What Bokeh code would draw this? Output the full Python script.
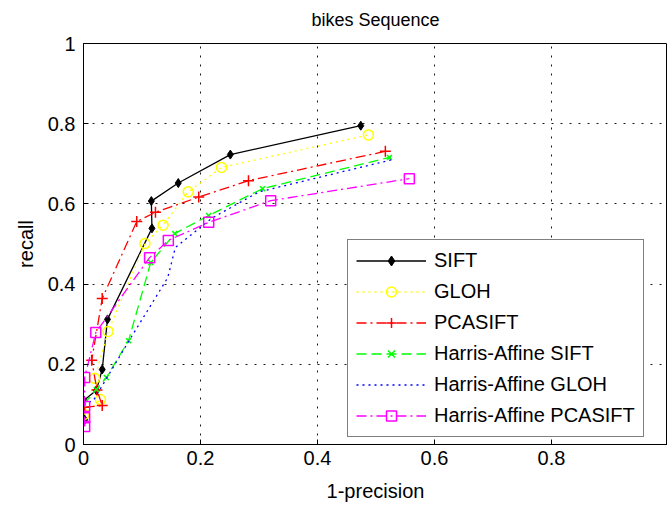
from bokeh.plotting import figure
from bokeh.models import Range1d, Legend, LegendItem, FixedTicker, Title
from bokeh.embed import file_html
from bokeh.resources import INLINE

FONT = "'Liberation Sans'"

sift_x = [0.002, 0.0005, 0.022, 0.032, 0.041, 0.117, 0.116, 0.162, 0.251, 0.474]
sift_y = [0.062, 0.110, 0.135, 0.187, 0.312, 0.539, 0.607, 0.652, 0.723, 0.795]

gloh_x = [0.001, 0.029, 0.019, 0.042, 0.105, 0.136, 0.179, 0.236, 0.487]
gloh_y = [0.075, 0.112, 0.165, 0.282, 0.501, 0.547, 0.630, 0.691, 0.772]

pca_x = [0.002, 0.032, 0.023, 0.014, 0.032, 0.091, 0.123, 0.197, 0.282, 0.516]
pca_y = [0.093, 0.097, 0.136, 0.210, 0.364, 0.556, 0.579, 0.617, 0.658, 0.731]

ha_sift_x = [0.0, 0.022, 0.039, 0.077, 0.115, 0.156, 0.214, 0.306, 0.523]
ha_sift_y = [0.100, 0.137, 0.167, 0.259, 0.454, 0.526, 0.571, 0.638, 0.716]

ha_gloh_x = [0.0, 0.017, 0.075, 0.144, 0.157, 0.220, 0.300, 0.527]
ha_gloh_y = [0.100, 0.110, 0.252, 0.416, 0.491, 0.565, 0.630, 0.710]

ha_pca_x = [0.002, 0.002, 0.002, 0.002, 0.021, 0.113, 0.145, 0.214, 0.320, 0.557]
ha_pca_y = [0.045, 0.067, 0.095, 0.167, 0.279, 0.466, 0.509, 0.554, 0.608, 0.663]

x_ticks = [0, 0.2, 0.4, 0.6, 0.8, 1]
y_ticks = [0, 0.2, 0.4, 0.6, 0.8, 1]

p = figure(width=667, height=507, output_backend="svg", toolbar_location=None,
           x_range=Range1d(0, 0.9983), y_range=Range1d(0, 1),
           min_border_left=83, min_border_right=0, min_border_top=43, min_border_bottom=63,
           title="bikes Sequence")
p.title.align = "center"
p.title.text_font = FONT
p.title.text_font_size = "18px"
p.title.text_font_style = "normal"
p.title.text_color = "black"
# empty spacer title between the frame and the real title
p.add_layout(Title(text=" ", text_font_size="7px", standoff=0), "above")

p.outline_line_color = "black"
p.outline_line_width = 1
p.outline_line_alpha = 1

for ax in (p.xaxis[0], p.yaxis[0]):
    ax.major_tick_in = 5
    ax.major_tick_out = 0
    ax.minor_tick_in = 0
    ax.minor_tick_out = 0
    ax.axis_line_color = "black"
    ax.major_tick_line_color = "black"
    ax.major_label_text_font = FONT
    ax.major_label_text_font_size = "20px"
    ax.major_label_text_color = "black"
    ax.axis_label_text_font = FONT
    ax.axis_label_text_font_size = "20px"
    ax.axis_label_text_font_style = "normal"
    ax.axis_label_text_color = "black"

p.xaxis.ticker = FixedTicker(ticks=x_ticks)
p.yaxis.ticker = FixedTicker(ticks=y_ticks)
p.xaxis.major_label_overrides = {0: "0", 1: "1"}
p.yaxis.major_label_overrides = {0: "0", 1: "1"}
p.xaxis.axis_label = "1-precision"
p.yaxis.axis_label = "recall"
p.xaxis.major_label_standoff = 6
p.yaxis.major_label_standoff = 8
p.xaxis.axis_label_standoff = 12
p.yaxis.axis_label_standoff = 8

p.grid.grid_line_color = "black"
p.grid.grid_line_dash = "2 7"
p.grid.grid_line_width = 1
p.grid.grid_line_alpha = 0.9

items = []

r1 = p.line(sift_x, sift_y, line_color="black", line_width=1.3)
m1 = p.scatter(sift_x, sift_y, marker="diamond", size=9, fill_color="black", line_color="black")
items.append(LegendItem(label="SIFT", renderers=[r1, m1]))

r2 = p.line(gloh_x, gloh_y, line_color="#FFFF00", line_width=1.3, line_dash="2 4")
m2 = p.scatter(gloh_x, gloh_y, marker="circle", size=10, fill_color=None, line_color="#FFFF00", line_width=1.5)
items.append(LegendItem(label="GLOH", renderers=[r2, m2]))

r3 = p.line(pca_x, pca_y, line_color="#FF0000", line_width=1.3, line_dash="10 4 2 4")
m3 = p.scatter(pca_x, pca_y, marker="cross", size=11, line_color="#FF0000", line_width=1.5)
items.append(LegendItem(label="PCASIFT", renderers=[r3, m3]))

r4 = p.line(ha_sift_x, ha_sift_y, line_color="#00FF00", line_width=1.3, line_dash="10 5")
m4 = p.scatter(ha_sift_x, ha_sift_y, marker="x", size=7, line_color="#00FF00", line_width=1.5)
items.append(LegendItem(label="Harris-Affine SIFT", renderers=[r4, m4]))

r5 = p.line(ha_gloh_x, ha_gloh_y, line_color="#0000FF", line_width=1.3, line_dash="2 4")
items.append(LegendItem(label="Harris-Affine GLOH", renderers=[r5]))

r6 = p.line(ha_pca_x, ha_pca_y, line_color="#FF00FF", line_width=1.3, line_dash="10 4 2 4")
m6 = p.scatter(ha_pca_x, ha_pca_y, marker="square", size=10, fill_color=None, line_color="#FF00FF", line_width=1.5)
items.append(LegendItem(label="Harris-Affine PCASIFT", renderers=[r6, m6]))

legend = Legend(items=items, location=(264, 7))
legend.label_text_font = FONT
legend.label_text_font_size = "20px"
legend.label_text_color = "black"
legend.glyph_width = 70
legend.glyph_height = 25
legend.label_height = 25
legend.spacing = 6
legend.padding = 8
legend.margin = 0
legend.label_standoff = 8
legend.border_line_color = "black"
legend.border_line_width = 1
legend.background_fill_color = "white"
legend.background_fill_alpha = 1
p.add_layout(legend, "center")

open("out.html", "w").write(file_html(p, INLINE))
